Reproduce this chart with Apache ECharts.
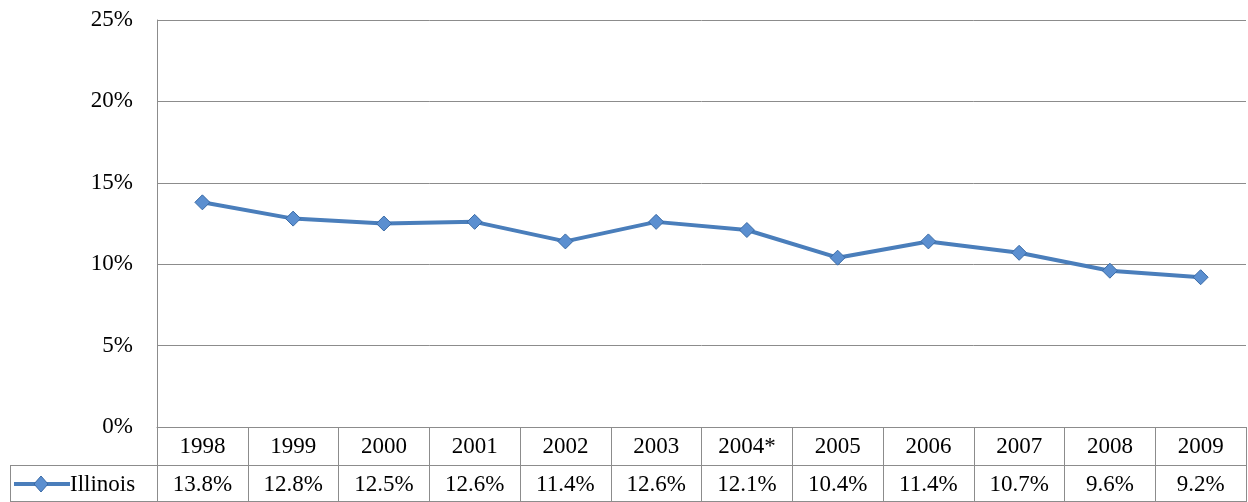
<!DOCTYPE html>
<html><head><meta charset="utf-8">
<script src="https://cdn.jsdelivr.net/npm/echarts@6/dist/echarts.min.js"></script>
<style>html,body{margin:0;padding:0;background:#fff}#c{width:1248px;height:502px}</style>
</head><body><div id="c"></div>
<script>
const years = ['1998', '1999', '2000', '2001', '2002', '2003', '2004*', '2005', '2006', '2007', '2008', '2009'];
const illinois = [13.8, 12.8, 12.5, 12.6, 11.4, 12.6, 12.1, 10.4, 11.4, 10.7, 9.6, 9.2];
const yTicks = [0, 5, 10, 15, 20, 25];

const font = '"Liberation Serif", "Times New Roman", serif';
const lineColor = '#4a7ebb';
const gridColor = '#8c8c8c';
const chart = echarts.init(document.getElementById('c'));
const valueLabels = illinois.map((v) => v.toFixed(1) + '%');
const tableAxis = (data, offset, showLabel) => ({
	type: 'category',
	data,
	position: 'bottom',
	offset,
	boundaryGap: true,
	axisLine: { show: true, lineStyle: { color: gridColor, width: 1 } },
	axisTick: { show: true, alignWithLabel: false, length: 38, lineStyle: { color: gridColor } },
	axisLabel: { show: showLabel, color: '#000', fontFamily: font, fontSize: 23, margin: 8 }
});

chart.setOption({
	animation: false,
	grid: { left: 157, right: 2, top: 20, bottom: 75 },
	xAxis: [
		tableAxis(years, 0, true),
		tableAxis(valueLabels, 38, true),
		{ ...tableAxis(valueLabels, 74, false), axisTick: { show: false } }
	],
	yAxis: {
		type: 'value',
		min: 0,
		max: 25,
		interval: 5,
		axisLine: { show: true, lineStyle: { color: gridColor } },
		axisTick: { show: false },
		splitLine: { lineStyle: { color: gridColor, width: 1 } },
		axisLabel: { color: '#000', fontFamily: font, fontSize: 23, margin: 24, formatter: (v) => yTicks.includes(v) ? v + '%' : '' }
	},
	series: [{
		type: 'line',
		name: 'Illinois',
		data: illinois,
		symbol: 'diamond',
		symbolSize: 15,
		lineStyle: { color: lineColor, width: 4 },
		itemStyle: { color: '#5b8fd0', borderColor: '#3a6aa5', borderWidth: 1 }
	}],
	graphic: [
		{ type: 'line', shape: { x1: 157.5, y1: 427, x2: 157.5, y2: 502 }, style: { stroke: gridColor, lineWidth: 1 } },
		{ type: 'line', shape: { x1: 10.5, y1: 465, x2: 10.5, y2: 502 }, style: { stroke: gridColor, lineWidth: 1 } },
		{ type: 'line', shape: { x1: 10, y1: 465.5, x2: 157, y2: 465.5 }, style: { stroke: gridColor, lineWidth: 1 } },
		{ type: 'line', shape: { x1: 10, y1: 501.5, x2: 157, y2: 501.5 }, style: { stroke: gridColor, lineWidth: 1 } },
		{ type: 'line', shape: { x1: 14, y1: 484, x2: 70, y2: 484 }, style: { stroke: lineColor, lineWidth: 4 } },
		{ type: 'polygon', shape: { points: [[41, 476], [48, 484], [41, 492], [34, 484]] }, style: { fill: '#5b8fd0', stroke: '#3a6aa5', lineWidth: 1 } },
		{ type: 'text', x: 70, y: 485, style: { text: 'Illinois', fill: '#000', font: '23px ' + font, verticalAlign: 'middle' } }
	]
});
</script>
</body></html>
